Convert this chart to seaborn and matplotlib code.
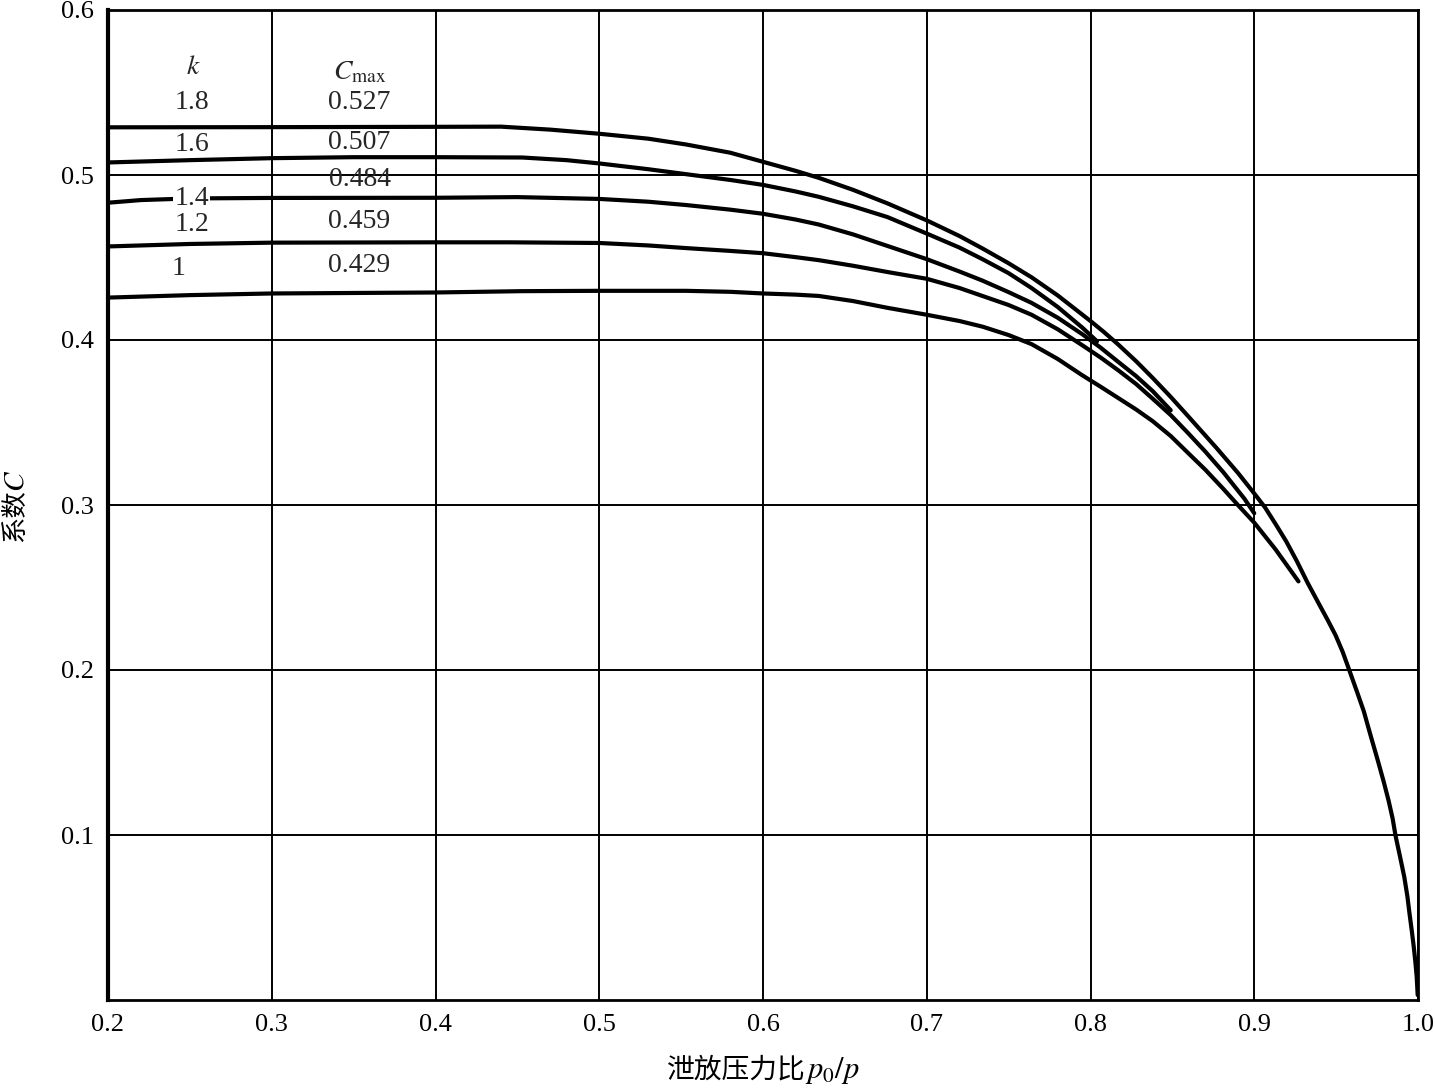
import matplotlib
matplotlib.use("Agg")
import matplotlib.pyplot as plt
import seaborn as sns
import pandas as pd

# ---- data ----
k_labels = ["1.8", "1.6", "1.4", "1.2", "1"]
cmax_labels = ["0.527", "0.507", "0.484", "0.459", "0.429"]

x_k18 = [0.200, 0.300, 0.350, 0.400, 0.440, 0.470, 0.500, 0.530, 0.553, 0.580, 0.600, 0.620,
         0.634, 0.655, 0.676, 0.700, 0.720, 0.734, 0.750, 0.764, 0.780, 0.800, 0.808, 0.817,
         0.828, 0.838, 0.849, 0.859, 0.868, 0.877, 0.890, 0.900, 0.9066, 0.913, 0.9195, 0.926,
         0.9325, 0.939, 0.945, 0.9497, 0.954, 0.958, 0.9625, 0.9669, 0.971, 0.9755, 0.979,
         0.982, 0.9845, 0.9863, 0.989, 0.9916, 0.9935, 0.9948, 0.9962, 0.9974, 0.9984, 0.9992,
         0.9998]
y_k18 = [0.5289, 0.5290, 0.5291, 0.5292, 0.5293, 0.5275, 0.5250, 0.5220, 0.5185, 0.5135, 0.5080,
         0.5025, 0.4983, 0.4910, 0.4828, 0.4725, 0.4630, 0.4555, 0.4465, 0.4380, 0.4270, 0.4115,
         0.4050, 0.3972, 0.3870, 0.3770, 0.3655, 0.3545, 0.3445, 0.3345, 0.3195, 0.3070, 0.2985,
         0.2885, 0.2780, 0.2660, 0.2530, 0.2410, 0.2300, 0.2210, 0.2110, 0.2000, 0.1875, 0.1750,
         0.1605, 0.1450, 0.1325, 0.1210, 0.1100, 0.0995, 0.0870, 0.0747, 0.0630, 0.0525, 0.0420,
         0.0323, 0.0230, 0.0141, 0.0030]

x_k16 = [0.200, 0.250, 0.300, 0.350, 0.400, 0.453, 0.480, 0.500, 0.530, 0.553, 0.580, 0.600,
         0.620, 0.634, 0.655, 0.676, 0.700, 0.720, 0.734, 0.750, 0.764, 0.780, 0.795, 0.804]
y_k16 = [0.5076, 0.5090, 0.5102, 0.5108, 0.5108, 0.5106, 0.5090, 0.5070, 0.5035, 0.5005, 0.4970,
         0.4940, 0.4900, 0.4868, 0.4810, 0.4745, 0.4645, 0.4560, 0.4490, 0.4405, 0.4315, 0.4200,
         0.4075, 0.3992]

x_k14 = [0.200, 0.220, 0.250, 0.300, 0.400, 0.450, 0.500, 0.530, 0.553, 0.580, 0.600, 0.620,
         0.634, 0.655, 0.676, 0.700, 0.720, 0.734, 0.750, 0.764, 0.780, 0.795, 0.806, 0.817,
         0.828, 0.838, 0.849]
y_k14 = [0.4832, 0.4848, 0.4858, 0.4861, 0.4862, 0.4866, 0.4855, 0.4838, 0.4818, 0.4790, 0.4765,
         0.4730, 0.4700, 0.4640, 0.4570, 0.4490, 0.4415, 0.4360, 0.4290, 0.4225, 0.4135, 0.4035,
         0.3955, 0.3867, 0.3780, 0.3690, 0.3574]

x_k12 = [0.200, 0.250, 0.300, 0.400, 0.445, 0.500, 0.530, 0.553, 0.580, 0.600, 0.620, 0.634,
         0.655, 0.676, 0.700, 0.720, 0.734, 0.750, 0.764, 0.780, 0.795, 0.806, 0.817, 0.828,
         0.838, 0.849, 0.859, 0.870, 0.881, 0.894, 0.900]
y_k12 = [0.4567, 0.4582, 0.4590, 0.4592, 0.4592, 0.4588, 0.4573, 0.4557, 0.4540, 0.4526, 0.4502,
         0.4484, 0.4450, 0.4412, 0.4371, 0.4315, 0.4267, 0.4212, 0.4153, 0.4065, 0.3968, 0.3895,
         0.3816, 0.3732, 0.3644, 0.3545, 0.3442, 0.3325, 0.3200, 0.3038, 0.2950]

x_k10 = [0.200, 0.250, 0.300, 0.400, 0.453, 0.500, 0.553, 0.580, 0.600, 0.620, 0.634, 0.655,
         0.676, 0.700, 0.720, 0.734, 0.750, 0.764, 0.780, 0.795, 0.806, 0.817, 0.828, 0.838,
         0.849, 0.859, 0.870, 0.881, 0.890, 0.900, 0.913, 0.927]
y_k10 = [0.4257, 0.4272, 0.4282, 0.4288, 0.4296, 0.4298, 0.4298, 0.4292, 0.4282, 0.4275, 0.4267,
         0.4236, 0.4195, 0.4153, 0.4115, 0.4081, 0.4030, 0.3975, 0.3885, 0.3786, 0.3718, 0.3648,
         0.3578, 0.3508, 0.3418, 0.3321, 0.3215, 0.3099, 0.3000, 0.2893, 0.2731, 0.2537]

x_ticks = [0.2, 0.3, 0.4, 0.5, 0.6, 0.7, 0.8, 0.9, 1.0]
x_ticklabels = ["0.2", "0.3", "0.4", "0.5", "0.6", "0.7", "0.8", "0.9", "1.0"]
y_ticks = [0.1, 0.2, 0.3, 0.4, 0.5, 0.6]
y_ticklabels = ["0.1", "0.2", "0.3", "0.4", "0.5", "0.6"]

curves = [(x_k18, y_k18), (x_k16, y_k16), (x_k14, y_k14), (x_k12, y_k12), (x_k10, y_k10)]
frames = []
for lab, (xs, ys) in zip(k_labels, curves):
    frames.append(pd.DataFrame({"ratio": xs, "C": ys, "k": lab}))
df = pd.concat(frames, ignore_index=True)

# ---- style ----
sns.set_theme(style="white")
plt.rcParams["font.family"] = ["Liberation Serif", "Noto Sans CJK SC", "DejaVu Sans"]
plt.rcParams["mathtext.fontset"] = "stix"

W, H = 1435, 1092
fig = plt.figure(figsize=(W / 100, H / 100), dpi=100)
ax = fig.add_axes([108 / W, 1 - 1000 / H, (1418 - 108) / W, (1000 - 10) / H])

sns.lineplot(data=df, x="ratio", y="C", units="k", estimator=None, sort=False,
             color="black", linewidth=3.0, ax=ax, legend=False, zorder=3)

ax.set_xlim(0.2, 1.0)
ax.set_ylim(0.0, 0.6)
ax.set_xticks(x_ticks)
ax.set_xticklabels(x_ticklabels)
ax.set_yticks(y_ticks)
ax.set_yticklabels(y_ticklabels)
ax.tick_params(axis="both", length=0, labelsize=19, colors="black")
ax.tick_params(axis="x", pad=10)
ax.tick_params(axis="y", pad=10)
ax.grid(True, color="black", linewidth=1.4)
ax.set_axisbelow(True)
for s in ax.spines.values():
    s.set_color("black")
    s.set_linewidth(2.0)
ax.spines["left"].set_linewidth(3.0)
ax.set_xlabel("")
ax.set_ylabel("")

# ---- axis titles (Chinese text + italic math kept as separate texts) ----
cjk = "Noto Sans CJK SC"
fig.text(806 / W, 1 - 1078 / H, "泄放压力比", family=cjk, fontsize=20,
         ha="right", va="baseline", color="black")
fig.text(805 / W, 1 - 1078 / H, r"$p_0/p$", fontsize=22,
         ha="left", va="baseline", color="black")
fig.text(15 / W, 1 - 516 / H, "系数", family=cjk, fontsize=19, rotation=90,
         ha="center", va="center", color="black")
fig.text(17 / W, 1 - 481 / H, r"$C$", fontsize=21, rotation=90,
         ha="center", va="center", color="black")

# ---- table of k / Cmax ----
fs = 20
ax.text(0.252, 0.565, r"$k$", ha="center", va="center", fontsize=fs)
ax.text(0.3536, 0.5618, r"$C_{\mathrm{max}}$", ha="center", va="center", fontsize=fs)
k_pos = [(0.251, 0.544), (0.251, 0.5185), (0.251, 0.4857), (0.251, 0.4702), (0.243, 0.4435)]
c_pos = [0.544, 0.5197, 0.4975, 0.472, 0.4453]
for lab, (kx, ky) in zip(k_labels, k_pos):
    bbox = dict(facecolor="white", edgecolor="none", pad=0.5) if lab == "1.4" else None
    ax.text(kx, ky, lab, ha="center", va="center", fontsize=fs, zorder=4, bbox=bbox)
for lab, cy in zip(cmax_labels, c_pos):
    ax.text(0.3536, cy, lab, ha="center", va="center", fontsize=fs, zorder=4)

fig.savefig("out.png", dpi=100)
